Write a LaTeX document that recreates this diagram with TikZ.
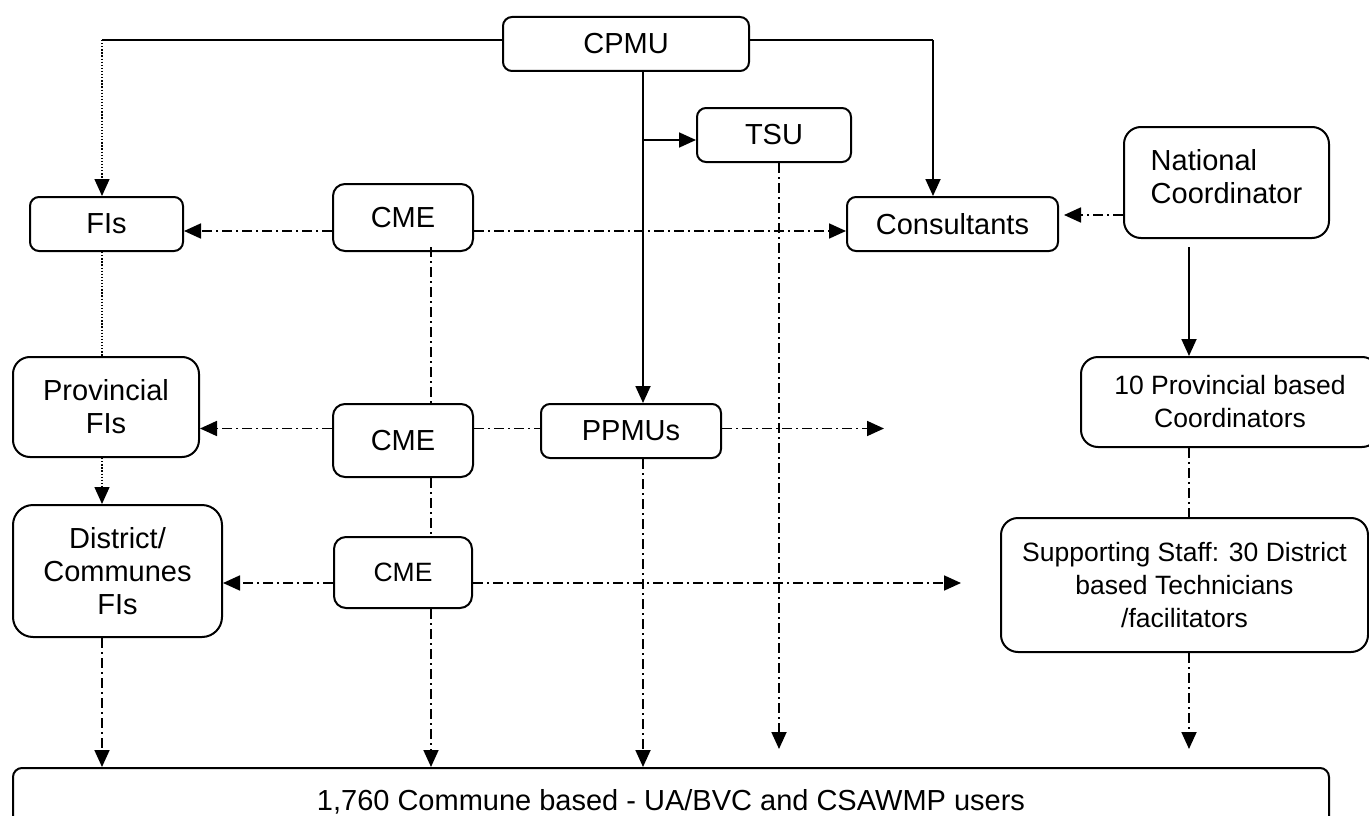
\documentclass[tikz,border=0pt]{standalone}
\usepackage{fontspec}
\setmainfont{Liberation Sans}
\usetikzlibrary{arrows.meta,calc}
\newcommand\bigf{\fontsize{29}{33}\selectfont}
\newcommand\smallf{\fontsize{26.5}{33}\selectfont}
\begin{document}
\begin{tikzpicture}[x=1pt,y=-1pt,
  box/.style={draw, line width=2pt, rounded corners=9pt, inner sep=0pt, align=center, font=\bigf},
  tallbox/.style={box, rounded corners=17pt},
  conn/.style={line width=1.8pt},
  ar/.style={-{Triangle[length=17pt,width=15pt]}},
  dd/.style={conn, dash pattern=on 10pt off 4pt on 2pt off 4pt},
  dt/.style={line width=1.4pt, dash pattern=on 1.3pt off 1.8pt}]
\useasboundingbox (0,0) rectangle (1369,816);
\clip (0,0) rectangle (1369,816);
% nodes
\node[box, minimum width=246pt, minimum height=54pt] (CPMU) at (626,44) {CPMU};
\node[box, minimum width=154pt, minimum height=54pt] (TSU) at (774,135) {TSU};
\node[box, minimum width=153pt, minimum height=54pt] (FIs) at (106.5,224) {FIs};
\node[box, rounded corners=12pt, minimum width=140pt, minimum height=67pt] (CME1) at (403,217.5) {CME};
\node[box, minimum width=211pt, minimum height=54pt] (Cons) at (952.5,224) {Consultants};
\node[tallbox, align=left, minimum width=205pt, minimum height=111pt] (NC) at (1226.5,182.5) {National\\Coordinator\\[-20pt]};
\node[tallbox, minimum width=186pt, minimum height=100pt] (Prov) at (106,407) {Provincial\\FIs};
\node[box, rounded corners=12pt, minimum width=140pt, minimum height=73pt] (CME2) at (403,440.5) {CME};
\node[box, minimum width=180pt, minimum height=54pt] (PPMUs) at (631,431) {PPMUs};
\node[tallbox, font=\smallf, minimum width=298pt, minimum height=90pt] (TenP) at (1230,402) {10 Provincial based\\Coordinators};
\node[tallbox, rounded corners=20pt, minimum width=209pt, minimum height=132pt] (Dist) at (117.5,571) {District/\\Communes\\FIs};
\node[box, rounded corners=12pt, font=\smallf, minimum width=138pt, minimum height=71pt] (CME3) at (403,572.5) {CME};
\node[tallbox, font=\smallf, minimum width=367pt, minimum height=134pt] (Supp) at (1184.5,585) {Supporting Staff: 30 District\\based Technicians\\/facilitators};
\node[box, minimum width=1316pt, minimum height=68pt] (Bot) at (671,802) {1,760 Commune based - UA/BVC and CSAWMP users};
% helper coordinates
\coordinate (lA) at (102,40);
\coordinate (rA) at (933,40);
\coordinate (colB) at (431,0);
\coordinate (colC) at (643,0);
\coordinate (colT) at (779,0);
\coordinate (colN) at (1189,0);
\coordinate (tsuJ) at (643,140);
\coordinate (rowA) at (0,231);
\coordinate (rowN) at (0,215);
\coordinate (rowB) at (0,428.5);
\coordinate (rowC) at (0,583);
\coordinate (pEnd) at (884,428.5);
\coordinate (cEnd) at (961,583);
\coordinate (tEnd) at (779,749);
\coordinate (sEnd) at (1189,749);
% CPMU connectors
\draw[conn] (CPMU.west |- lA) -- (lA);
\draw[dt,ar] (lA) -- (lA |- FIs.north);
\draw[conn] (CPMU.east |- rA) -- (rA);
\draw[conn,ar] (rA) -- (rA |- Cons.north);
\draw[conn,ar] (colC |- CPMU.south) -- (colC |- PPMUs.north);
\draw[conn,ar] (tsuJ) -- (TSU.west |- tsuJ);
% row 1
\draw[dd,ar] (CME1.west |- rowA) -- (FIs.east |- rowA);
\draw[dd,ar] (CME1.east |- rowA) -- (Cons.west |- rowA);
\draw[dd,ar] (NC.west |- rowN) -- ($(Cons.east |- rowN)+(5,0)$);
\draw[conn,ar] ($(colN |- NC.south)+(0,8)$) -- (colN |- TenP.north);
% verticals between rows
\draw[dt] (lA |- FIs.south) -- (lA |- Prov.north);
\draw[dd] ($(colB |- CME1.south)+(0,-5)$) -- (colB |- CME2.north);
\draw[dt,ar] (lA |- Prov.south) -- (lA |- Dist.north);
\draw[dd] (colB |- CME2.south) -- (colB |- CME3.north);
\draw[dd] (colN |- TenP.south) -- (colN |- Supp.north);
% row 2
\draw[dd,ar] (CME2.west |- rowB) -- (Prov.east |- rowB);
\draw[dd] (CME2.east |- rowB) -- (PPMUs.west |- rowB);
\draw[dd,ar] (PPMUs.east |- rowB) -- (pEnd);
% row 3
\draw[dd,ar] (CME3.west |- rowC) -- (Dist.east |- rowC);
\draw[dd,ar] (CME3.east |- rowC) -- (cEnd);
% down to bottom
\draw[dd,ar] (lA |- Dist.south) -- (lA |- Bot.north);
\draw[dd,ar] (colB |- CME3.south) -- (colB |- Bot.north);
\draw[dd,ar] (colC |- PPMUs.south) -- (colC |- Bot.north);
\draw[dd,ar] (colT |- TSU.south) -- (tEnd);
\draw[dd,ar] (colN |- Supp.south) -- (sEnd);
\end{tikzpicture}
\end{document}
